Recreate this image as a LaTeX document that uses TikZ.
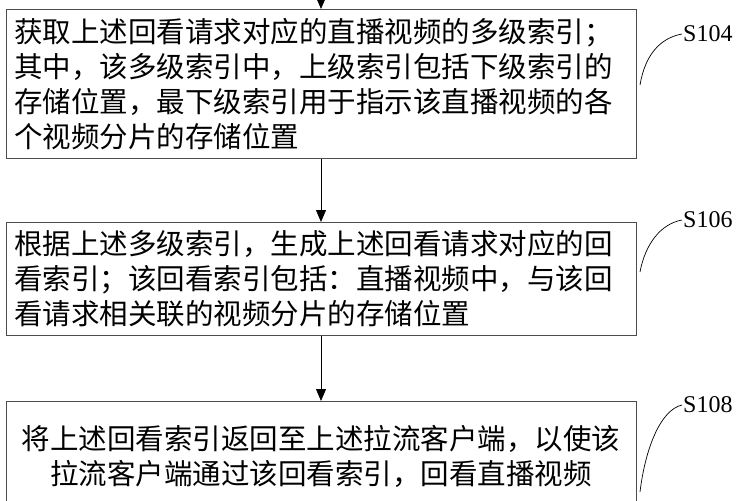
\documentclass[tikz,border=0pt]{standalone}
\usepackage{fontspec}
\setmainfont{Liberation Serif}
\newfontfamily\cjk{Noto Sans CJK SC}
\usetikzlibrary{arrows.meta}
\begin{document}
\begin{tikzpicture}[x=1pt,y=-1pt,
  stepbox/.style={draw=black!70,line width=0.8pt,minimum width=630pt,inner xsep=8pt,inner ysep=0pt,font=\cjk\fontsize{28.5}{35}\selectfont,text width=614pt},
  flow/.style={-{Triangle[length=12pt,width=10pt]},line width=0.8pt},
  lbl/.style={font=\fontsize{24}{26}\selectfont,inner sep=1pt},
  hook/.style={line width=0.7pt}]
\useasboundingbox (0,0) rectangle (751,500);
\fill[white] (0,0) rectangle (751,500);
\node[stepbox,minimum height=149pt,align=left,anchor=north west] (b1) at (6,9)
 {获取上述回看请求对应的直播视频的多级索引；\\其中，该多级索引中，上级索引包括下级索引的\\存储位置，最下级索引用于指示该直播视频的各\\个视频分片的存储位置};
\node[stepbox,minimum height=113pt,align=left,anchor=north west] (b2) at (6,222)
 {根据上述多级索引，生成上述回看请求对应的回\\看索引；该回看索引包括：直播视频中，与该回\\看请求相关联的视频分片的存储位置};
\node[stepbox,minimum height=120pt,align=center,anchor=north west,text depth=0pt] (b3) at (6,401)
 {};
\node[font=\cjk\fontsize{28.5}{35}\selectfont,align=center] (t3) at (321,456)
 {将上述回看索引返回至上述拉流客户端，以使该\\拉流客户端通过该回看索引，回看直播视频};
\coordinate (top) at (321,-5);
\draw[flow] (top) -- (b1.north -| top);
\draw[flow] (b1.south -| top) -- (b2.north -| top);
\draw[flow] (b2.south -| top) -- (b3.north -| top);
\node[lbl,anchor=west] (s1) at (682,34) {S104};
\node[lbl,anchor=west] (s2) at (682,220) {S106};
\node[lbl,anchor=west] (s3) at (682,405) {S108};
\coordinate (c1) at (640,85);
\coordinate (c2) at (640,272);
\coordinate (c3) at (640,492);
\draw[hook] (c1) .. controls (645,55) and (660,38) .. (s1.west);
\draw[hook] (c2) .. controls (645,245) and (660,224) .. (s2.west);
\draw[hook] (c3) .. controls (645,450) and (660,410) .. (s3.west);
\end{tikzpicture}
\end{document}
